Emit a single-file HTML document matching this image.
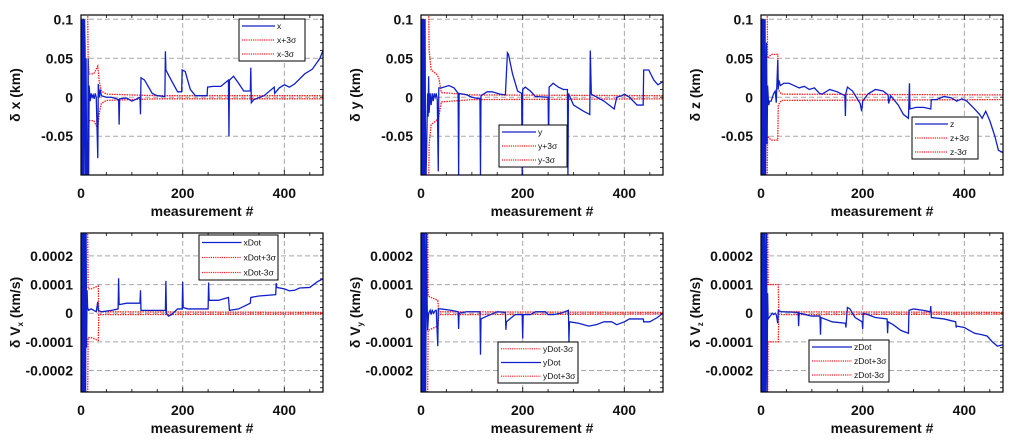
<!DOCTYPE html>
<html><head><meta charset="utf-8"><style>
body{margin:0;background:#fff;width:1024px;height:441px;overflow:hidden}
svg{display:block;font-family:"Liberation Sans",sans-serif}
</style></head><body>
<svg id="c" width="1024" height="441"></svg>
<script>
// ---- data (measurement index) ----
const xIdx=[0,1,1.5,2,2.5,3,3.5,4,4.5,5,6,7,8,9,10,11,12,13,14,15,16,18,20,22,24,26,28,30,33,34,36,38,40,50,60,70,74,75,76,90,100,110,116,117,118,125,140,150,165,166,167,175,190,198,199,205,215,225,248,249,260,275,290,291,292,300,310,320,333,334,335,340,360,380,381,390,400,410,420,440,455,470,476];
const xVal=[0,0.1,-0.1,0.1,-0.1,0.1,-0.1,0.1,-0.1,0.1,-0.1,0.1,0.066,-0.1,0.05,-0.1,-0.057,-0.1,0.05,-0.1,0.015,-0.005,0.005,0,0.003,-0.002,0.005,0,-0.078,0.017,0,0.01,0.002,0,0,-0.002,-0.003,-0.035,-0.002,-0.001,-0.005,-0.002,0,-0.022,0.025,0.022,0.005,0.002,0.001,0.059,0.035,0.025,0.007,0.007,0.035,0.033,0.01,0.002,0.002,0.013,0.014,0.014,0.022,-0.05,0.022,0.027,0.018,0.008,0.008,0.038,-0.007,-0.003,0.002,0.013,0.005,0.012,0.016,0.013,0.017,0.03,0.036,0.05,0.06];
const yIdx=[0,1,1.5,2,2.5,3,3.5,4,5,6,7,8,9,10,13,14,15,16,18,20,22,24,26,28,30,32,34,35,40,55,65,73,74,75,90,100,116,117,118,130,140,155,166,170,172,180,190,198,199,200,205,215,225,250,251,252,260,270,280,288,289,290,300,320,332,333,335,360,380,385,395,400,410,425,437,438,448,458,466,476];
const yVal=[0,0.1,-0.1,0.1,-0.1,0.1,-0.1,0.1,-0.1,0.1,-0.1,0.1,-0.1,-0.1,0.005,-0.025,0.027,-0.02,0.005,-0.01,0.005,-0.005,0.005,0,0.005,-0.003,-0.095,0.012,0.012,0.015,0.012,0.005,-0.1,0.005,0.003,0,-0.002,-0.1,0.002,0.007,0.007,0.004,0.003,0.057,0.055,0.03,0.008,0.005,-0.1,0.01,0.013,0.008,0.001,0,-0.06,0.013,0.018,0.013,0.01,0.01,-0.1,0.005,-0.01,-0.018,-0.022,0.06,0.004,-0.005,-0.015,0,0.002,0.004,0,-0.01,-0.01,0.035,0.035,0.022,0.016,0.02];
const zIdx=[0,1,1.5,2,2.5,3,3.5,4,5,6,7,8,9,11,12,13,15,17,20,25,28,30,33,34,35,38,45,55,65,75,85,95,105,115,120,135,150,165,166,167,170,180,195,198,200,210,225,240,250,251,255,270,280,290,292,293,305,320,334,335,345,360,375,385,395,405,420,430,435,442,450,460,467,476];
const zVal=[0,0.1,-0.1,0.1,-0.1,0.1,-0.1,0.1,-0.1,0.1,-0.1,0.1,-0.1,0.07,-0.06,0.015,-0.01,-0.005,-0.005,0.005,0.008,-0.007,0.048,0.01,0.022,0.015,0.018,0.018,0.015,0.012,0.014,0.01,0.012,0.005,0.004,0.01,0.007,0.002,-0.024,0.005,0.013,0.008,-0.008,-0.018,-0.005,0.004,0.01,0.008,0.003,-0.008,0.002,-0.01,-0.022,-0.027,0.018,-0.015,-0.013,-0.013,-0.015,-0.003,-0.003,0.001,-0.001,-0.005,-0.002,-0.005,-0.015,-0.022,-0.027,-0.018,-0.03,-0.05,-0.068,-0.071];
// velocity residuals in units of 1e-4 km/s
const vxIdx=[0,1,1.5,2,2.5,3,3.5,4,5,6,7,8,9,10,11,12,13,15,20,25,30,33,34,40,60,73,74,75,90,116,117,118,140,166,167,168,172,178,190,199,200,201,210,250,251,252,270,290,292,310,333,334,350,383,384,385,400,410,420,430,450,465,476];
const vxVal=[0,3,-3,3,-3,3,-3,3,-3,3,-3,3,-3,3,-1.2,0.8,0.2,0.1,0.15,0.1,0.05,0.4,0.1,0.05,0.1,0.15,1.22,0.3,0.35,0.35,0.8,0.1,0.1,0.1,1.13,0,-0.1,-0.05,0.15,0.15,1.1,0.2,0.15,0.15,1.07,0.45,0.45,0.55,0.1,0.15,0.35,0.55,0.6,0.65,1.05,0.9,0.85,0.78,0.8,0.88,0.9,1.1,1.2];
const vyIdx=[0,1,1.5,2,2.5,3,3.5,4,5,6,7,8,9,11,12,13,15,18,20,22,25,28,30,33,34,40,60,73,74,75,90,105,116,117,118,130,150,166,167,168,185,199,200,201,215,225,245,250,260,275,290,291,292,310,330,345,360,375,385,400,410,437,438,450,465,476];
const vyVal=[0,3,-3,3,-3,3,-3,3,-3,3,-3,3,-3,3,0.5,-0.6,0,0.1,-0.05,0.1,0,0.1,0.1,-1.15,0.15,0.15,0.1,0.05,-0.55,0,0.05,0.05,0.05,-1.45,-0.2,-0.1,0.05,0.03,-0.58,-0.3,-0.05,-0.05,-0.88,-0.05,-0.05,0.05,0.05,-0.05,-0.05,0,0.1,-1,-0.3,-0.35,-0.45,-0.4,-0.3,-0.3,-0.4,-0.3,-0.2,-0.2,-0.3,-0.3,-0.15,0];
const vzIdx=[0,1,1.5,2,2.5,3,3.5,4,5,6,7,8,9,11,12,13,14,18,22,25,28,30,33,34,40,73,74,75,100,116,117,118,140,166,167,170,175,185,199,200,201,210,225,248,249,250,260,275,290,291,300,320,333,334,335,360,383,384,385,400,410,420,435,445,455,465,476];
const vzVal=[0,3,-3,3,-3,3,-3,3,-3,3,-3,3,-3,3,-3,0.7,-0.2,-0.1,0,-0.05,0,-0.05,-0.35,0.1,0.05,0.03,-0.45,0,-0.1,-0.1,-0.75,-0.15,-0.3,-0.35,-0.5,0.2,0.15,-0.15,-0.3,-0.55,0,-0.05,-0.15,-0.2,-0.7,-0.3,-0.4,-0.6,-0.7,0.1,0.15,0.1,0.05,0.25,-0.15,-0.2,-0.3,-0.5,-0.45,-0.5,-0.6,-0.7,-0.75,-0.8,-1,-1.15,-1.1];
// 3-sigma envelopes (positive side; negative is mirrored)
const sxIdx=[13,14,16,25,33,36,40,50,100,150,476];
const sxVal=[0.12,0.05,0.03,0.03,0.04,0.02,0.008,0.004,0.003,0.002,0.002];
const syIdx=[15,16,20,30,35,40,60,100,476];
const syVal=[0.12,0.06,0.035,0.03,0.025,0.006,0.005,0.003,0.002];
const szIdx=[12,13,20,33,34,40,476];
const szVal=[0.12,0.05,0.055,0.055,0.01,0.004,0.003];
const svxIdx=[13,14,20,34,35,476];
const svxVal=[3.2,0.85,0.85,0.95,0.05,0.03];
const svyIdx=[13,14,20,33,35,476];
const svyVal=[3.2,0.6,0.55,0.45,0.05,0.03];
const svzIdx=[13,14,34,35,476];
const svzVal=[3.2,1.0,1.0,0.05,0.03];
const xTicks=[0,200,400];
const posTicks=[0.1,0.05,0,-0.05];
const posTickLabels=["0.1","0.05","0","-0.05"];
const velTicks=[2,1,0,-1,-2];
const velTickLabels=["0.0002","0.0001","0","-0.0001","-0.0002"];

const NS="http://www.w3.org/2000/svg";
const svg=document.getElementById('c');
function mk(tag,attrs,parent){const e=document.createElementNS(NS,tag);for(const k in attrs)e.setAttribute(k,attrs[k]);(parent||svg).appendChild(e);return e;}

const panels=[
 {name:'dx',L:81,T:15,H:160,ymin:-0.0997,ymax:0.1055,minor:0.01,ticks:posTicks,labels:posTickLabels,title:'δ x (km)',sub:'',idx:xIdx,val:xVal,sIdx:sxIdx,sVal:sxVal,
  leg:{x:239,y:19,w:66,h:42,items:[['x','s'],['x+3σ','d'],['x-3σ','d']]}},
 {name:'dy',L:421,T:15,H:160,ymin:-0.0997,ymax:0.1055,minor:0.01,ticks:posTicks,labels:posTickLabels,title:'δ y (km)',sub:'',idx:yIdx,val:yVal,sIdx:syIdx,sVal:syVal,
  leg:{x:499,y:125,w:68,h:42,items:[['y','s'],['y+3σ','d'],['y-3σ','d']]}},
 {name:'dz',L:761,T:15,H:160,ymin:-0.0997,ymax:0.1055,minor:0.01,ticks:posTicks,labels:posTickLabels,title:'δ z (km)',sub:'',idx:zIdx,val:zVal,sIdx:szIdx,sVal:szVal,
  leg:{x:912,y:117,w:66,h:42,items:[['z','s'],['z+3σ','d'],['z-3σ','d']]}},
 {name:'dvx',L:81,T:233,H:159,ymin:-2.75,ymax:2.8,minor:0.2,ticks:velTicks,labels:velTickLabels,title:'δ V',sub:'x',idx:vxIdx,val:vxVal,sIdx:svxIdx,sVal:svxVal,
  leg:{x:199,y:235,w:79,h:45,items:[['xDot','s'],['xDot+3σ','d'],['xDot-3σ','d']]}},
 {name:'dvy',L:421,T:233,H:159,ymin:-2.75,ymax:2.8,minor:0.2,ticks:velTicks,labels:velTickLabels,title:'δ V',sub:'y',idx:vyIdx,val:vyVal,sIdx:svyIdx,sVal:svyVal,
  leg:{x:498,y:342,w:80,h:41,items:[['yDot-3σ','d'],['yDot','s'],['yDot+3σ','d']]}},
 {name:'dvz',L:761,T:233,H:159,ymin:-2.75,ymax:2.8,minor:0.2,ticks:velTicks,labels:velTickLabels,title:'δ V',sub:'z',idx:vzIdx,val:vzVal,sIdx:svzIdx,sVal:svzVal,
  leg:{x:809,y:340,w:80,h:42,items:[['zDot','s'],['zDot+3σ','d'],['zDot-3σ','d']]}}
];
const W=242, XMAX=476;
panels.forEach(p=>{
  const g=mk('g',{});
  
  
  const sx=v=>p.L+v/XMAX*W;
  const sy=v=>p.T+(p.ymax-v)/(p.ymax-p.ymin)*p.H;
  const clipId='cl'+p.name;
  const cp=mk('clipPath',{id:clipId},g);mk('rect',{x:p.L,y:p.T,width:W,height:p.H},cp);
  xTicks.forEach(t=>{if(t>0){const l=mk('line',{x1:sx(t),x2:sx(t),y1:p.T,y2:p.T+p.H,stroke:'#a8a8a8','stroke-dasharray':'5,3','stroke-width':1},g);
    }});
  p.ticks.forEach(t=>{const l=mk('line',{x1:p.L,x2:p.L+W,y1:sy(t),y2:sy(t),stroke:'#a8a8a8','stroke-dasharray':'5,3','stroke-width':1},g);
    });
  for(let v=0;v<=XMAX;v+=50){const L=(v%200===0)?5:3;
    mk('line',{x1:sx(v),x2:sx(v),y1:p.T+p.H,y2:p.T+p.H-L,stroke:'#333'},g);
    mk('line',{x1:sx(v),x2:sx(v),y1:p.T,y2:p.T+L,stroke:'#333'},g);}
  const n0=Math.ceil(p.ymin/p.minor),n1=Math.floor(p.ymax/p.minor);
  for(let k=n0;k<=n1;k++){const v=k*p.minor;
    mk('line',{x1:p.L,x2:p.L+3,y1:sy(v),y2:sy(v),stroke:'#333'},g);
    mk('line',{x1:p.L+W,x2:p.L+W-3,y1:sy(v),y2:sy(v),stroke:'#333'},g);}
  const plus=p.sIdx.map((d,i)=>sx(d)+','+sy(p.sVal[i])).join(' ');
  const minus=p.sIdx.map((d,i)=>sx(d)+','+sy(-p.sVal[i])).join(' ');
  const sp=mk('polyline',{points:plus,fill:'none',stroke:'#ff1a1a','stroke-width':1.3,'stroke-dasharray':'1.5,1','clip-path':'url(#'+clipId+')'},g);
  
  const sm=mk('polyline',{points:minus,fill:'none',stroke:'#ff1a1a','stroke-width':1.3,'stroke-dasharray':'1.5,1','clip-path':'url(#'+clipId+')'},g);
  
  const pts=p.idx.map((d,i)=>sx(d)+','+sy(p.val[i])).join(' ');
  const rl=mk('polyline',{points:pts,fill:'none',stroke:'#1020c8','stroke-width':1.3,'clip-path':'url(#'+clipId+')'},g);
  
  const fr=mk('rect',{x:p.L,y:p.T,width:W,height:p.H,fill:'none',stroke:'#000','stroke-width':1.2},g);
  
  p.ticks.forEach((t,i)=>{const tx=mk('text',{x:p.L-8,y:sy(t)+5,'text-anchor':'end','font-size':14,'font-weight':'bold',fill:'#111'},g);
    tx.textContent=p.labels[i];});
  xTicks.forEach(t=>{const tx=mk('text',{x:sx(t),y:p.T+p.H+23,'text-anchor':'middle','font-size':14,'font-weight':'bold',fill:'#111'},g);
    tx.textContent=t;});
  const xt=mk('text',{x:p.L+W/2,y:p.T+p.H+41,'text-anchor':'middle','font-size':14,'font-weight':'bold',fill:'#111'},g);
  xt.textContent='measurement #';
  const cy=p.T+p.H/2, cx=p.L-61;
  const yt=mk('text',{x:cx,y:cy,'text-anchor':'middle','font-size':14,'font-weight':'bold',fill:'#111',transform:'rotate(-90 '+cx+' '+cy+')'},g);
  
  if(p.sub){yt.appendChild(document.createTextNode('δ V'));
    const s=mk('tspan',{'font-size':8,dy:3},yt);s.textContent=p.sub;
    const r=mk('tspan',{dy:-3},yt);r.textContent=' (km/s)';}
  else yt.textContent=p.title;
  const lg=mk('g',{},g);
  
  mk('rect',{x:p.leg.x,y:p.leg.y,width:p.leg.w,height:p.leg.h,fill:'#fff',stroke:'#000','stroke-width':1},lg);
  const rowH=p.leg.h/3;
  p.leg.items.forEach((it,i)=>{const yy=p.leg.y+rowH*(i+0.5);
    const ll=p.leg.w*0.5;
    const ln=mk('line',{x1:p.leg.x+3,x2:p.leg.x+3+ll,y1:yy,y2:yy,stroke:it[1]==='s'?'#1020c8':'#ff1a1a','stroke-width':1.2},lg);
    if(it[1]==='d')ln.setAttribute('stroke-dasharray','1.2,1');
    
    const tx=mk('text',{x:p.leg.x+5+ll,y:yy+3,'font-size':8.5,fill:'#111'},lg);
    tx.textContent=it[0];});
});
</script>
</body></html>
